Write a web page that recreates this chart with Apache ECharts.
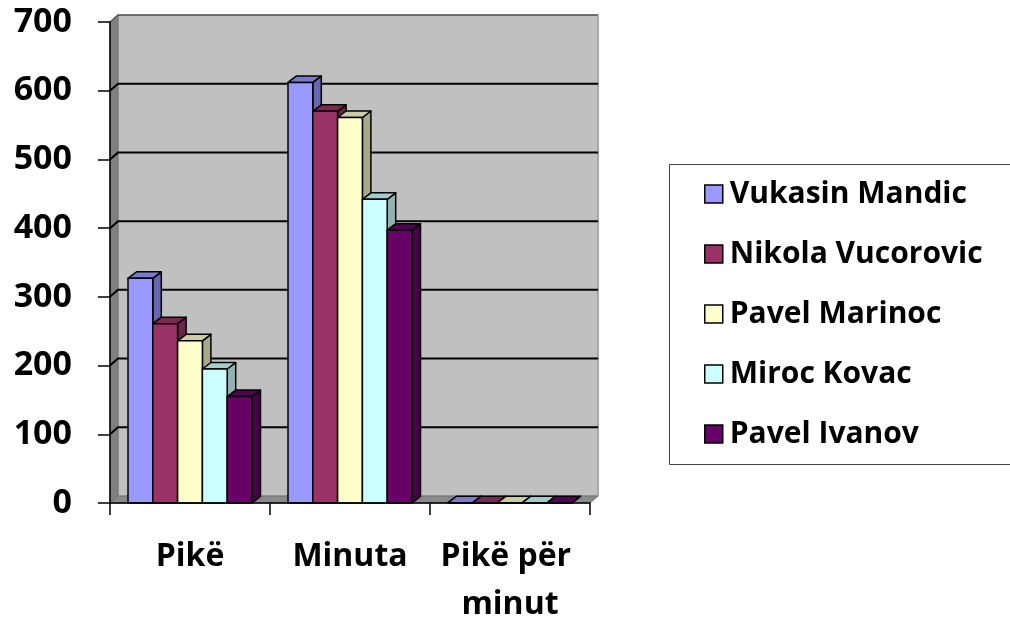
<!DOCTYPE html>
<html><head><meta charset="utf-8">
<script src="https://cdn.jsdelivr.net/npm/echarts@6/dist/echarts.min.js"></script>
<style>html,body{margin:0;padding:0;background:#fff;}#c{width:1010px;height:624px;}</style>
</head><body><div id="c"></div>
<script>
var categories = ['Pikë', 'Minuta', 'Pikë për minut'];
var seriesNames = ['Vukasin Mandic', 'Nikola Vucorovic', 'Pavel Marinoc', 'Miroc Kovac', 'Pavel Ivanov'];
var vukasin = [327, 612, 0.53];
var nikola = [261, 570, 0.46];
var pavelM = [236, 561, 0.42];
var miroc = [195, 442, 0.44];
var pavelI = [155, 397, 0.39];
var yTicks = [0, 100, 200, 300, 400, 500, 600, 700];

var values = [vukasin, nikola, pavelM, miroc, pavelI];
var frontColors = ['#9999FF', '#993366', '#FFFFCC', '#CCFFFF', '#660066'];
var topColors = ['#7a7acc', '#7a2952', '#ccccA3', '#a3cccc', '#520052'];
var sideColors = ['#6666b3', '#6b2447', '#a8a88a', '#8fb3b3', '#470047'];
var FONT = '"Open Sans", Lato, sans-serif';
var WD = [8, -7];   // wall depth offset
var BD = [8.5, -6.5]; // bar depth offset

var chart = echarts.init(document.getElementById('c'), null, {renderer: 'canvas'});

function wallRender(params, api) {
  var cs = params.coordSys;
  var x0 = cs.x, y0 = cs.y, w = cs.width, h = cs.height;
  var dx = WD[0], dy = WD[1];
  var ch = [];
  ch.push({type: 'rect', shape: {x: x0 + dx, y: y0 + dy, width: w, height: h},
    style: {fill: '#C0C0C0', stroke: '#9a9a9a', lineWidth: 1}});
  ch.push({type: 'polygon', shape: {points: [[x0, y0], [x0 + dx, y0 + dy], [x0 + dx, y0 + h + dy], [x0, y0 + h]]},
    style: {fill: '#808080', stroke: '#707070', lineWidth: 1}});
  ch.push({type: 'polygon', shape: {points: [[x0, y0 + h], [x0 + dx, y0 + h + dy], [x0 + w + dx, y0 + h + dy], [x0 + w, y0 + h]]},
    style: {fill: '#8a8a8a', stroke: '#707070', lineWidth: 1}});
  ch.push({type: 'line', shape: {x1: x0 + w + dx, y1: y0 + dy, x2: x0 + w + dx, y2: y0 + h + dy},
    style: {stroke: '#a8a8a8', lineWidth: 2}});
  yTicks.forEach(function (v) {
    if (v === 0) return;
    var y = api.coord([0, v])[1];
    var isTop = v === yTicks[yTicks.length - 1];
    ch.push({type: 'polyline', shape: {points: [[x0, y], [x0 + dx, y + dy], [x0 + w + dx, y + dy]]},
      style: {stroke: isTop ? '#555' : '#000', lineWidth: isTop ? 1.5 : 2, fill: null}});
  });
  return {type: 'group', children: ch};
}

function barRender(idx) {
  return function (params, api) {
    var cat = api.value(0), val = api.value(1);
    var top = api.coord([cat, val]);
    var base = api.coord([cat, 0]);
    var band = api.size([1, 0])[0];
    var bw = band * 0.155;
    var x = top[0] - band / 2 + band * 0.1125 + idx * bw;
    var yT = top[1], yB = base[1];
    var dx = BD[0], dy = BD[1];
    var st = {stroke: '#000', lineWidth: 1.5, lineJoin: 'round'};
    return {type: 'group', children: [
      {type: 'polygon', shape: {points: [[x + bw, yB], [x + bw + dx, yB + dy], [x + bw + dx, yT + dy], [x + bw, yT]]},
        style: Object.assign({fill: sideColors[idx]}, st)},
      {type: 'polygon', shape: {points: [[x, yT], [x + dx, yT + dy], [x + bw + dx, yT + dy], [x + bw, yT]]},
        style: Object.assign({fill: topColors[idx]}, st)},
      {type: 'rect', shape: {x: x, y: yT, width: bw, height: yB - yT},
        style: Object.assign({fill: frontColors[idx]}, st)}
    ]};
  };
}

var series = [{
  type: 'custom', name: '_wall', renderItem: wallRender, data: [[0, 0]], z: 1, silent: true
}];
seriesNames.forEach(function (n, i) {
  series.push({
    type: 'custom', name: n, z: 2 + i,
    renderItem: barRender(i),
    itemStyle: {color: frontColors[i], borderColor: '#000', borderWidth: 1.5},
    data: values[i].map(function (v, c) { return [c, v]; })
  });
});

chart.setOption({
  animation: false,
  backgroundColor: '#fff',
  grid: {left: 110, top: 22, width: 480, height: 481, containLabel: false, outerBoundsMode: 'none'},
  graphic: [{type: 'rect', left: 667, top: 162, shape: {width: 342, height: 300},
    style: {fill: 'none', stroke: '#444', lineWidth: 1}, z: 0}],
  legend: {
    data: seriesNames, orient: 'vertical', left: 699, top: 174,
    icon: 'rect', itemWidth: 18, itemHeight: 18, itemGap: 30,
    itemStyle: {borderColor: '#000', borderWidth: 1.5},
    textStyle: {fontFamily: FONT, fontWeight: 'bold', fontSize: 30, color: '#000', lineHeight: 30, padding: [0, 0, 0, 2]}
  },
  xAxis: {
    type: 'category', data: categories,
    axisLine: {show: true, lineStyle: {color: '#000', width: 1.5}},
    axisTick: {show: true, interval: 0, length: 12, lineStyle: {color: '#000', width: 1.5}},
    axisLabel: {interval: 0, margin: 30, color: '#000', fontFamily: FONT, fontWeight: 'bold', fontSize: 32,
      lineHeight: 48, width: 175, overflow: 'break'},
    z: 10
  },
  yAxis: {
    type: 'value', min: 0, max: 700, interval: 100,
    splitLine: {show: false},
    axisLine: {show: true, lineStyle: {color: '#000', width: 1.5}},
    axisTick: {show: true, length: 12, lineStyle: {color: '#000', width: 1.5}},
    axisLabel: {margin: 38, color: '#000', fontFamily: FONT, fontWeight: 'bold', fontSize: 34},
    z: 10
  },
  series: series
});
</script></body></html>
